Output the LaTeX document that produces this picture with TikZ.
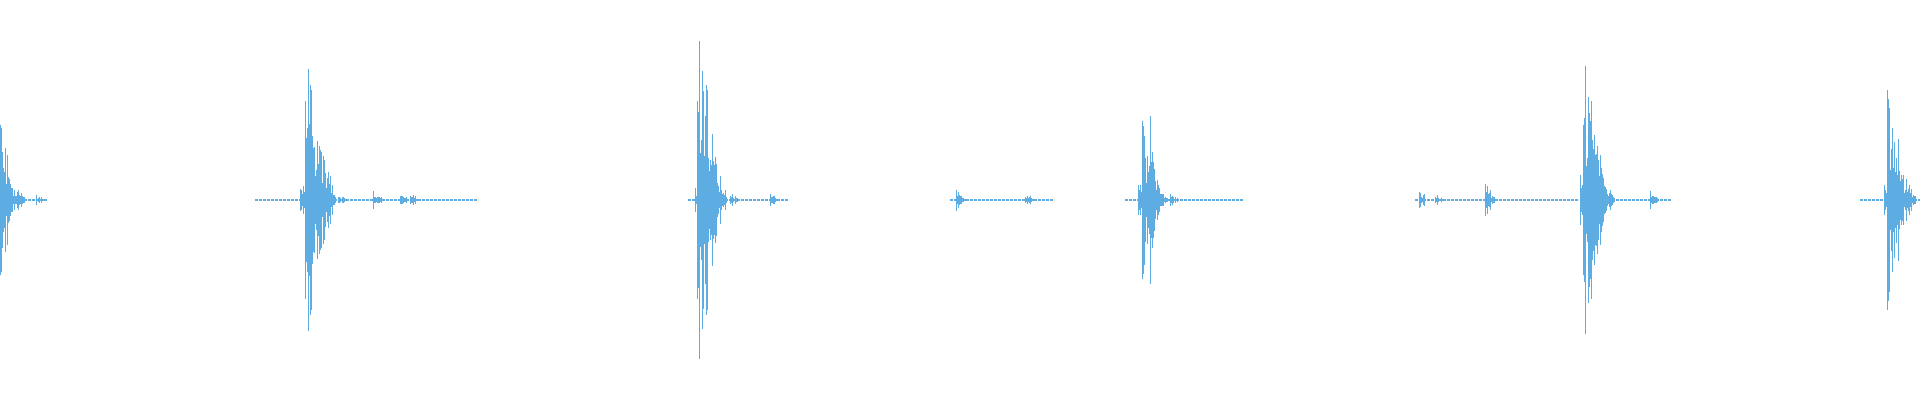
\documentclass[tikz,border=0pt]{standalone}
\definecolor{wave}{HTML}{5DADE2}
\begin{document}
\begin{tikzpicture}[x=1pt,y=-1pt,line width=0.8pt,wave line/.style={draw=wave}]
\useasboundingbox (0,0) rectangle (1920,400);
\pgfmathsetseed{7}
% burst: x0, width, amp
\newcommand{\wburst}[3]{%
  \foreach \i in {0,0.7,...,#2}{%
    \pgfmathsetmacro{\h}{#3*(1-\i/(#2+1))^0.9*(rnd<0.2 ? 1.05 : 0.25+0.5*rnd)}%
    \draw[wave line] (#1+\i,200-\h) -- (#1+\i,200+\h);
  }}
\newcommand{\wtail}[2]{%
  \foreach \i in {0,4,...,#2}{%
    \pgfmathsetmacro{\h}{0.5+0.6*rnd}%
    \draw[wave line,line width=1.2pt] (#1+\i,200) -- (#1+\i+2.5,200);
    \draw[wave line] (#1+\i+1,200-\h) -- (#1+\i+1,200+\h);
  }}
% cluster 1
\wburst{0}{14}{75}\wburst{14}{12}{14}\wtail{20}{25}\wburst{36}{8}{5}
% cluster 2
\wtail{255}{50}\wburst{300}{6}{25}\wburst{305}{18}{150}\wburst{318}{18}{55}\wtail{330}{145}
\wburst{338}{8}{5}\wburst{373}{10}{9}\wburst{400}{8}{8}\wburst{410}{10}{7}
% cluster 3
\wtail{688}{10}\wburst{695}{4}{20}\wburst{697}{12}{188}\wburst{705}{14}{120}\wburst{712}{15}{45}\wtail{725}{60}
\wburst{730}{10}{7}\wburst{770}{10}{6}
% cluster 4
\wtail{950}{100}\wburst{956}{10}{10}\wburst{1025}{10}{7}
% cluster 5
\wtail{1125}{15}\wburst{1138}{5}{25}\wburst{1142}{10}{80}\wburst{1150}{10}{80}\wburst{1158}{10}{15}\wtail{1168}{75}
\wburst{1170}{8}{6}
% cluster 6
\wtail{1415}{160}\wburst{1419}{6}{16}\wburst{1435}{8}{6}\wburst{1485}{10}{16}\wburst{1580}{5}{40}
\wburst{1583}{12}{150}\wburst{1591}{14}{140}\wburst{1600}{15}{25}\wtail{1612}{58}\wburst{1650}{8}{9}
% cluster 7
\wtail{1860}{25}\wburst{1884}{6}{30}\wburst{1887}{14}{105}\wburst{1896}{10}{70}\wburst{1906}{10}{20}\wtail{1910}{8}
\end{tikzpicture}
\end{document}
